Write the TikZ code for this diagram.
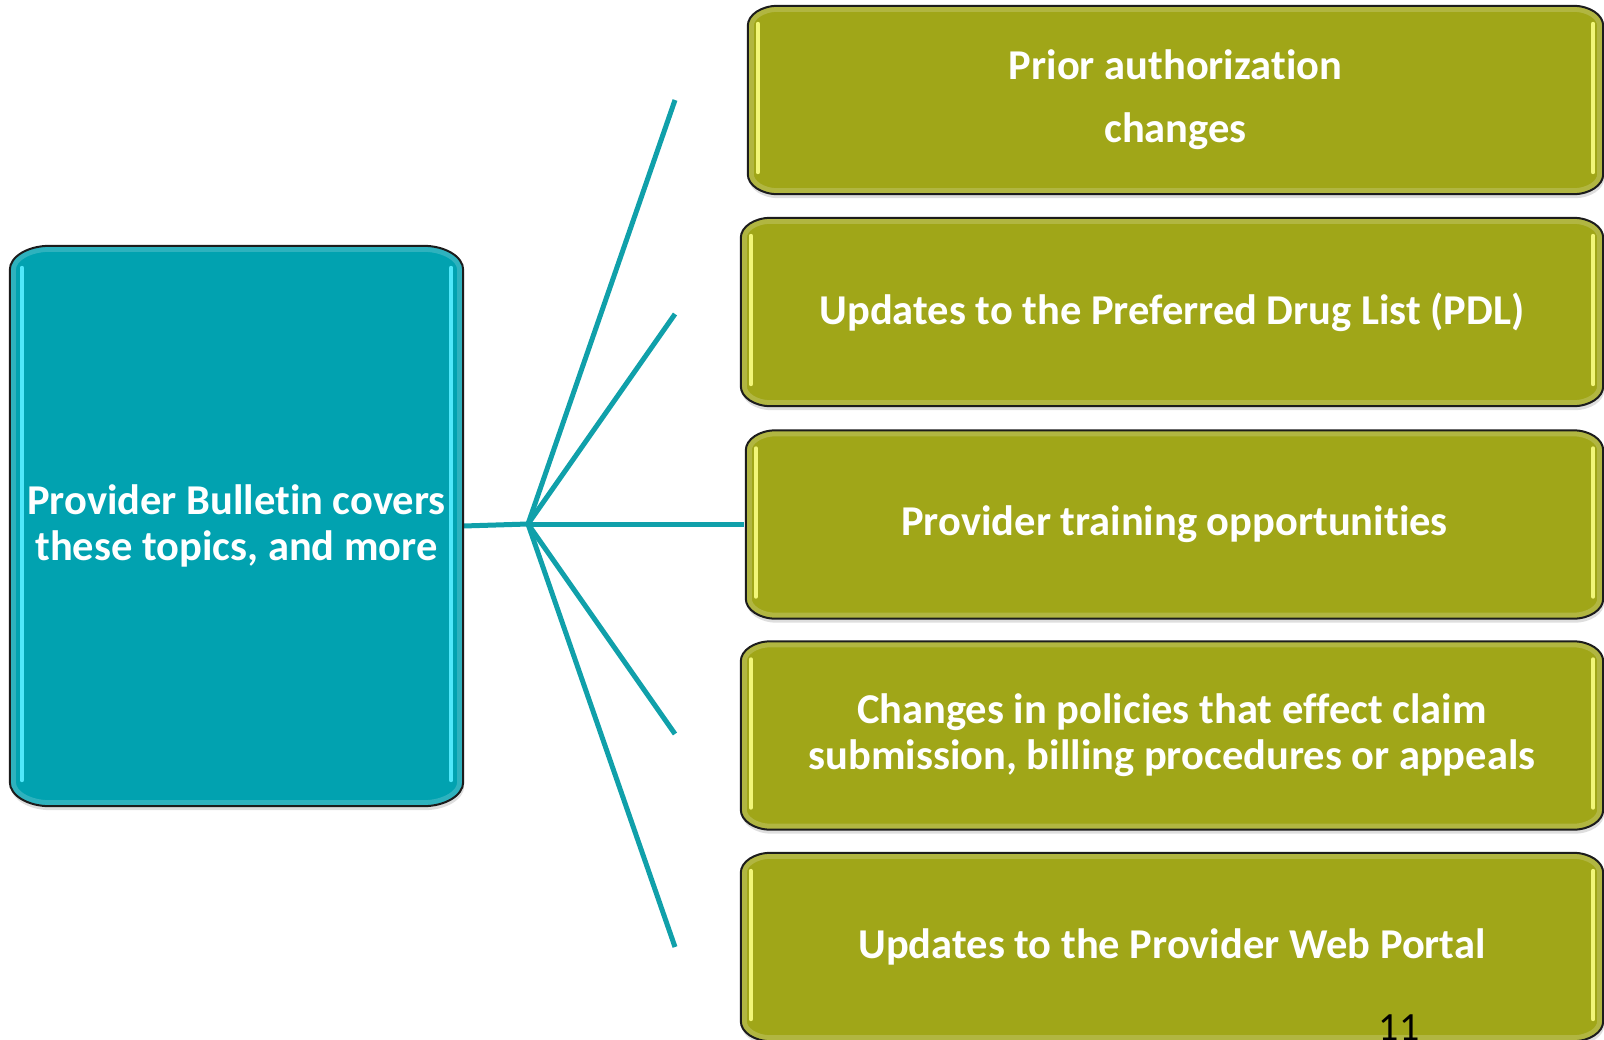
\documentclass[tikz,border=0pt]{standalone}
\usepackage{fontspec}
\setmainfont{Carlito}[Ligatures=NoCommon]
\usetikzlibrary{calc,backgrounds}
\definecolor{tealbox}{RGB}{1,162,176}
\definecolor{olivebox}{RGB}{160,166,24}
\definecolor{cyanhl}{RGB}{80,232,250}
\definecolor{yelhl}{RGB}{242,246,120}
\definecolor{linec}{RGB}{16,160,170}
\definecolor{edgec}{RGB}{28,28,28}
% elliptical-corner outline of a named node: name, rx, ry, style
\newcommand\eboxpath[4]{%
  \path[#4] let \p1=(#1.north west), \p2=(#1.south east) in
    (\x1+#2,\y1) -- (\x2-#2,\y1)
    .. controls (\x2-0.45*#2,\y1) and (\x2,\y1-0.45*#3) .. (\x2,\y1-#3)
    -- (\x2,\y2+#3)
    .. controls (\x2,\y2+0.45*#3) and (\x2-0.45*#2,\y2) .. (\x2-#2,\y2)
    -- (\x1+#2,\y2)
    .. controls (\x1+0.45*#2,\y2) and (\x1,\y2+0.45*#3) .. (\x1,\y2+#3)
    -- (\x1,\y1-#3)
    .. controls (\x1,\y1-0.45*#3) and (\x1+0.45*#2,\y1) .. cycle;}
% highlight strips at both sides: name, inset, vertical inset, colour
\newcommand\sidehl[4]{%
  \draw[#4,line width=4pt,line cap=round] let \p1=(#1.north west), \p2=(#1.south east) in
    (\x1+#2,\y1-#3) -- (\x1+#2,\y2+#3)
    (\x2-#2,\y1-#3) -- (\x2-#2,\y2+#3);}
% full glossy box: name, rx, ry, fill colour, highlight colour, highlight inset
\newcommand\glossbox[6]{%
  \eboxpath{#1}{#2}{#3}{shade}
  \eboxpath{#1}{#2}{#3}{fill=#4}
  \begin{scope}
    \eboxpath{#1}{#2}{#3}{clip}
    \eboxpath{#1}{#2}{#3}{draw=white,opacity=0.18,line width=12pt}
  \end{scope}
  \eboxpath{#1}{#2}{#3}{boxline}
  \sidehl{#1}{#6}{#3+2pt}{#5}}
\tikzset{
  boxtext/.style={text=white,font=\bfseries\fontsize{42.5}{46}\selectfont,align=center,inner sep=0pt},
  greenbox/.style={boxtext,minimum height=188pt},
  conn/.style={draw=linec,line width=5pt},
  boxline/.style={draw=edgec,line width=2pt},
  shade/.style={fill=black,opacity=0.13,transform canvas={xshift=1pt,yshift=-4pt}},
}
\begin{document}
\begin{tikzpicture}[x=1pt,y=-1pt]
\useasboundingbox (0,0) rectangle (1604,1039);
% nodes
\node[boxtext,minimum width=453pt,minimum height=560pt] (L) at (236.5,526)
  {Provider Bulletin covers\\these topics, and more};
\node[greenbox,minimum width=855pt] (B1) at (1175.5,100)
  {Prior authorization\\[17pt]changes};
\node[greenbox,minimum width=862pt] (B2) at (1172,312)
  {Updates to the Preferred Drug List (PDL)};
\node[greenbox,minimum width=857pt] (B3) at (1174.5,524.5)
  {Provider training opportunities};
\node[greenbox,minimum width=862pt] (B4) at (1172,735.5)
  {Changes in policies that effect claim\\submission, billing procedures or appeals};
\node[greenbox,minimum width=862pt] (B5) at (1172,947)
  {Updates to the Provider Web Portal};
\node[anchor=base,font=\fontsize{40}{46}\selectfont,inner sep=0pt] (pg) at (1399,1040) {11};
% connector geometry
\coordinate (hub) at (528,524);
\coordinate (e1) at (675,100);
\coordinate (e2) at (675,314);
\coordinate (e3) at (744,524);
\coordinate (e4) at (675,734);
\coordinate (e5) at (675,947);
\begin{pgfonlayer}{background}
  \draw[conn] (L.east) -- (hub);
  \draw[conn] (hub) -- (e1);
  \draw[conn] (hub) -- (e2);
  \draw[conn] (hub) -- (e3);
  \draw[conn] (hub) -- (e4);
  \draw[conn] (hub) -- (e5);
  \glossbox{L}{40pt}{24pt}{tealbox}{cyanhl}{12pt}
  \foreach \b in {B1,B2,B3,B4,B5}{
    \glossbox{\b}{30pt}{20pt}{olivebox}{yelhl}{10pt}
  }
\end{pgfonlayer}
\end{tikzpicture}
\end{document}
